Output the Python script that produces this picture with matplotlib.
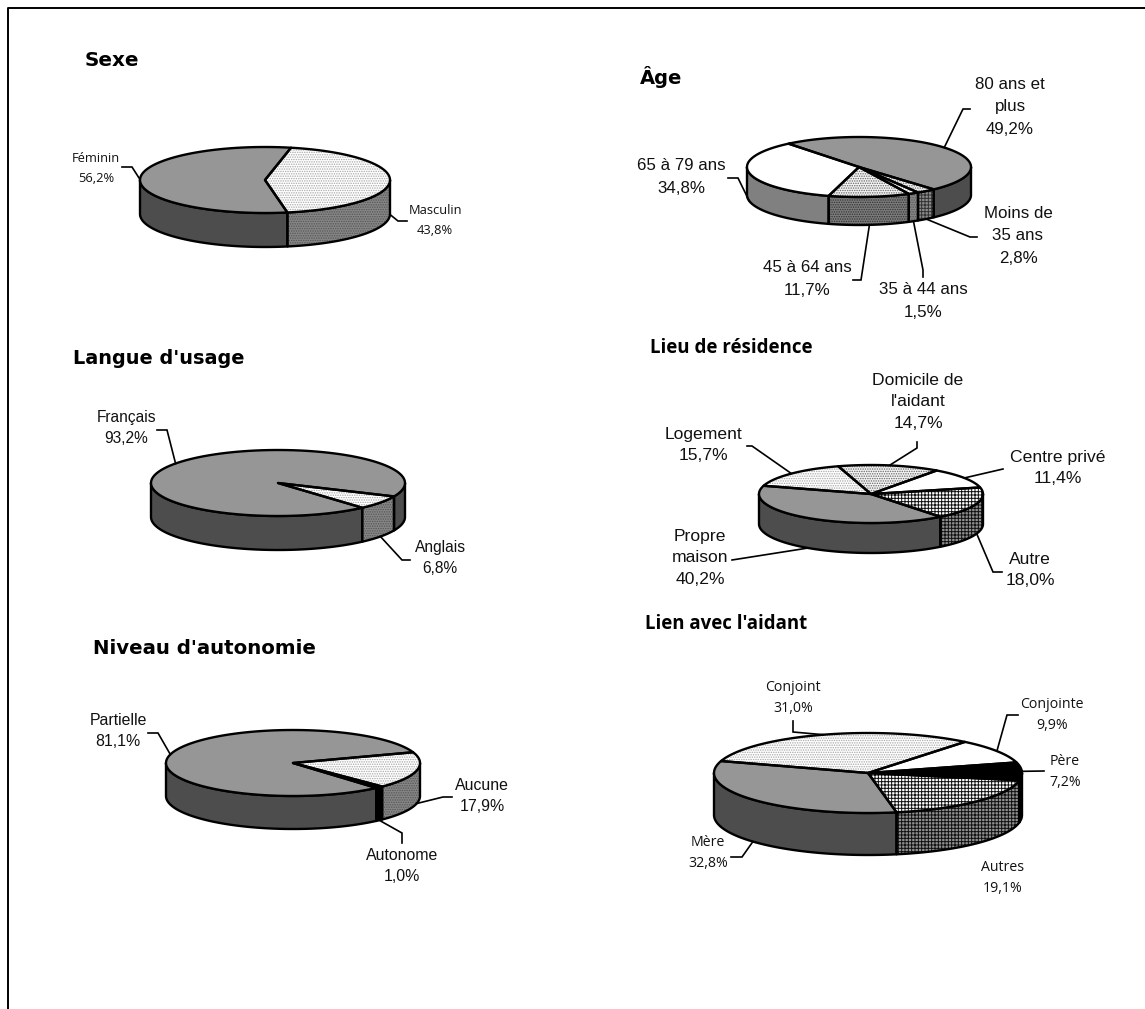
import numpy as np
import matplotlib
matplotlib.use("Agg")
import matplotlib.pyplot as plt
from matplotlib.patches import Polygon

# Slice values, listed clockwise from the start angle of each pie
sexe_labels = ["Masculin\n43,8%", "Féminin\n56,2%"]
sexe_values = [43.8, 56.2]
age_labels = ["80 ans et\nplus\n49,2%", "Moins de\n35 ans\n2,8%", "35 à 44 ans\n1,5%",
              "45 à 64 ans\n11,7%", "65 à 79 ans\n34,8%"]
age_values = [49.2, 2.8, 1.5, 11.7, 34.8]
langue_labels = ["Anglais\n6,8%", "Français\n93,2%"]
langue_values = [6.8, 93.2]
autonomie_labels = ["Aucune\n17,9%", "Autonome\n1,0%", "Partielle\n81,1%"]
autonomie_values = [17.9, 1.0, 81.1]
lieu_labels = ["Domicile de\nl'aidant\n14,7%", "Centre privé\n11,4%", "Autre\n18,0%",
               "Propre\nmaison\n40,2%", "Logement\n15,7%"]
lieu_values = [14.7, 11.4, 18.0, 40.2, 15.7]
lien_labels = ["Conjoint\n31,0%", "Conjointe\n9,9%", "Père\n7,2%", "Autres\n19,1%", "Mère\n32,8%"]
lien_values = [31.0, 9.9, 7.2, 19.1, 32.8]

TAHOMA = ["Open Sans", "DejaVu Sans"]
ARIAL = ["Liberation Sans", "DejaVu Sans"]

# (top colour, top hatch, top hatch colour, side colour, side hatch, side hatch colour)
GREY = ("#969696", None, None, "#4d4d4d", None, None)
WHITE = ("#ffffff", None, None, "#808080", None, None)
LIGHT = ("#ffffff", ".......", "#a8a8a8", "#868686", ".......", "#555555")
MEDIUM = ("#f4f4f4", ".......", "#666666", "#7c7c7c", ".......", "#333333")
SMALL = ("#f4f4f4", ".......", "#666666", "#8c8c8c", "+++++", "#333333")
CHECK = ("#ffffff", "+++++", "#111111", "#909090", "+++++", "#111111")
BLACK = ("#000000", None, None, "#000000", None, None)

# layout of each pie: centre, radii, depth, start angle, slice styles and
# for each label: where it sits, the leader elbow points, how far down the wall the leader starts
pies = [
    dict(cx=265, cy=180, rx=125, ry=33, depth=34, start=78, values=sexe_values, labels=sexe_labels,
         styles=[LIGHT, GREY], font=TAHOMA, size=9.3, spacing=1.7,
         text=[(435, 221), (96, 168)], legs=[[(398, 221), (407, 221)], [(132, 167), (122, 167)]], drop=[1, 0]),
    dict(cx=859, cy=167, rx=112, ry=30, depth=28, start=129, values=age_values, labels=age_labels,
         styles=[GREY, SMALL, LIGHT, MEDIUM, WHITE], font=ARIAL, size=12.2, spacing=1.6,
         text=[(1010, 107), (1018, 236), (923, 301), (807, 279), (681, 177)],
         legs=[[(963, 109), (970, 109)], [(970, 237), (977, 237)], [(923, 270), (923, 277)],
               [(861, 280), (853, 280)], [(738, 178), (728, 178)]], drop=[0, 1, 1, 1, 1]),
    dict(cx=278, cy=483, rx=127, ry=33, depth=34, start=-24, values=langue_values, labels=langue_labels,
         styles=[LIGHT, GREY], font=ARIAL, size=11.2, spacing=1.52,
         text=[(440, 558), (126, 428)], legs=[[(402, 560), (410, 560)], [(167, 430), (157, 430)]], drop=[1, 0]),
    dict(cx=293, cy=763, rx=127, ry=33, depth=33, start=19, values=autonomie_values, labels=autonomie_labels,
         styles=[LIGHT, BLACK, GREY], font=ARIAL, size=11.4, spacing=1.52,
         text=[(482, 796), (402, 866), (118, 731)],
         legs=[[(443, 797), (452, 797)], [(402, 833), (402, 843)], [(158, 733), (148, 733)]], drop=[1, 1, 0]),
    dict(cx=871, cy=494, rx=112, ry=29, depth=30, start=107, values=lieu_values, labels=lieu_labels,
         styles=[MEDIUM, WHITE, CHECK, GREY, LIGHT], font=ARIAL, size=12.6, spacing=1.55,
         text=[(918, 402), (1058, 468), (1030, 570), (700, 558), (703, 445)],
         legs=[[(917, 448), (917, 442)], [(1003, 469)], [(993, 572), (1002, 572)],
               [(732, 560)], [(752, 446), (747, 446)]], drop=[0, 0, 1, 1, 0]),
    dict(cx=868, cy=773, rx=154, ry=40, depth=42, start=162.6, values=lien_values, labels=lien_labels,
         styles=[LIGHT, WHITE, BLACK, CHECK, GREY], font=TAHOMA, size=10.2, spacing=1.63,
         text=[(793, 698), (1052, 715), (1065, 772), (1003, 878), (708, 853)],
         legs=[[(793, 732), (793, 721)], [(1007, 715), (1018, 715)], [(1044, 771)],
               [], [(742, 857), (731, 857)]], drop=[0, 0, 0, 1, 1]),
]

title_names = ["Sexe", "Âge", "Langue d'usage", "Lieu de résidence", "Niveau d'autonomie", "Lien avec l'aidant"]
title_spots = [(85, 61), (640, 77), (73, 358), (650, 348), (93, 648), (645, 624)]
title_fonts = [("DejaVu Sans", 14.4), ("DejaVu Sans", 14), ("DejaVu Sans", 13.9),
               ("Open Sans", 13.5), ("DejaVu Sans", 14.2), ("Open Sans", 13.4)]


def rim(p, angle, drop=0.0):
    a = np.radians(angle)
    return p["cx"] + p["rx"] * np.cos(a), p["cy"] - p["ry"] * np.sin(a) + drop * p["depth"]


def add_patch(ax, pts, color, hatch, hatch_color, zorder):
    # fill and outline are separate so the hatch colour does not touch the outline
    ax.add_patch(Polygon(pts, closed=True, facecolor=color, edgecolor=hatch_color or color,
                         hatch=hatch, linewidth=0, zorder=zorder))
    ax.add_patch(Polygon(pts, closed=True, fill=False, edgecolor="black", linewidth=1.7, joinstyle="round",
                         zorder=zorder + 0.1))


def draw_pie(ax, p):
    edges = p["start"] - np.cumsum([0] + p["values"]) * 3.6

    # walls first, only the parts facing the viewer (-180..0 degrees)
    for k in range(len(p["values"])):
        style = p["styles"][k]
        for shift in (0, 360, -360):
            a0 = min(edges[k] + shift, 0)
            a1 = max(edges[k + 1] + shift, -180)
            if a0 <= a1:
                continue
            t = np.linspace(a0, a1, 60)
            top = np.array([rim(p, a) for a in t])
            bottom = np.array([rim(p, a, 1) for a in t[::-1]])
            add_patch(ax, np.vstack([top, bottom]), style[3], style[4], style[5], 2)

    for k in range(len(p["values"])):
        style = p["styles"][k]
        t = np.linspace(edges[k], edges[k + 1], 120)
        arc = np.array([rim(p, a) for a in t])
        pts = np.vstack([[(p["cx"], p["cy"])], arc])
        add_patch(ax, pts, style[0], style[1], style[2], 3)

    for k, label in enumerate(p["labels"]):
        mid = (edges[k] + edges[k + 1]) / 2
        if p["legs"][k]:
            path = [rim(p, mid, p["drop"][k])] + p["legs"][k]
            ax.plot(*zip(*path), color="black", linewidth=1.2, solid_joinstyle="miter", zorder=5)
        ax.text(p["text"][k][0], p["text"][k][1], label, family=p["font"], fontsize=p["size"],
                ha="center", va="center", linespacing=p["spacing"], color="#111111", zorder=6)


plt.rcParams["hatch.linewidth"] = 0.7
fig = plt.figure(figsize=(11.45, 10.09), dpi=100)
ax = fig.add_axes([0, 0, 1, 1])
ax.set_xlim(0, 1145)
ax.set_ylim(1009, 0)
ax.axis("off")

# the frame runs off the page on the right and at the bottom
ax.plot([8, 8, 1145], [1009, 8, 8], color="black", linewidth=1.4, zorder=1)

for p in pies:
    draw_pie(ax, p)
for name, spot, font in zip(title_names, title_spots, title_fonts):
    ax.text(spot[0], spot[1], name, family=font[0], fontweight="bold", fontsize=font[1], ha="left", va="center")

fig.savefig("out.png", dpi=100)
